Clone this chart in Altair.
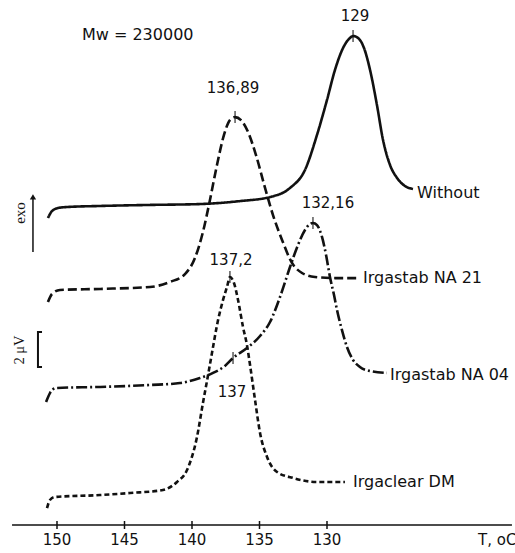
import altair as alt
import pandas as pd

# Temperature (°C) and signal (μV, offset)
without_T = [150.67,150.37,149.93,149.26,146.81,143.11,139.41,136.44,134.22,132.74,131.63,130.74,130.0,129.41,128.81,128.30,128.07,127.70,127.26,126.81,126.30,125.85,125.33,124.81,124.22,123.63]
without_V = [17.54,17.94,18.11,18.17,18.23,18.29,18.34,18.51,18.74,19.26,20.29,22.29,24.29,26.0,27.26,27.83,27.94,27.83,27.26,26.0,24.0,22.0,20.57,19.83,19.37,19.2]

na21_T = [150.67,150.37,149.78,146.81,143.11,141.63,140.52,139.78,139.19,138.67,138.15,137.63,137.19,136.81,136.37,135.85,135.26,134.59,134.0,133.33,132.59,131.85,130.89,129.41,127.56]
na21_V = [12.74,13.2,13.43,13.49,13.6,13.89,14.34,15.26,16.74,18.57,20.57,22.29,23.14,23.31,23.14,22.46,21.14,19.26,17.71,16.29,14.97,14.4,14.17,14.11,14.11]

na04_T = [150.81,150.52,150.07,146.81,143.11,140.89,139.41,138.44,137.56,136.96,135.93,134.96,134.22,133.48,132.74,132.15,131.63,131.26,131.04,130.74,130.37,130.07,129.78,129.48,129.26,128.89,128.52,128.07,127.56,126.81,125.56]
na04_V = [7.03,7.54,7.83,7.89,8.0,8.11,8.4,8.69,9.09,9.54,10.11,10.8,11.6,13.03,14.74,16.0,16.86,17.2,17.26,17.14,16.46,15.43,14.17,13.14,12.29,11.14,10.17,9.43,9.03,8.8,8.69]

dm_T = [150.74,150.52,150.15,146.81,144.59,142.15,141.11,140.37,139.63,139.19,138.81,138.52,138.07,137.70,137.41,137.19,136.89,136.59,136.22,135.93,135.70,135.33,134.96,134.44,133.70,132.52,130.74,128.67]
dm_V = [0.97,1.43,1.6,1.71,1.83,2.0,2.46,3.14,5.03,6.97,8.57,9.83,11.71,12.86,13.6,14.17,13.83,12.86,11.31,10.29,9.14,7.14,5.26,3.89,3.03,2.69,2.46,2.46]

series_names = ["Without", "Irgastab NA 21", "Irgastab NA 04", "Irgaclear DM"]
series_T = [without_T, na21_T, na04_T, dm_T]
series_V = [without_V, na21_V, na04_V, dm_V]
series_dash = [[1, 0], [9, 4], [11, 3, 2, 3], [5, 3]]

label_T = [123.33, 127.33, 125.33, 128.07]
label_V = [18.97, 14.11, 8.57, 2.46]

peak_text = ["129", "136,89", "132,16", "137,2", "137"]
peak_text_T = [127.93, 136.96, 129.93, 137.11, 137.04]
peak_text_V = [29.09, 24.97, 18.4, 15.14, 7.6]
peak_mark_T = [128.07, 136.81, 131.04, 137.19, 136.96]
peak_mark_V = [27.94, 23.31, 17.26, 14.17, 9.54]

tick_values = [150, 145, 140, 135, 130]
tick_labels = ["150", "145", "140", "135", "130"]

W, H = 515, 553
xs = alt.Scale(domain=[116.074, 154.222], reverse=True, zero=False, nice=False)
ys = alt.Scale(domain=[-1.6, 30.0], zero=False, nice=False)
FONT = "DejaVu Sans"

def X(f="T"):
    return alt.X(f"{f}:Q", scale=xs, axis=None)

def Y(f="V"):
    return alt.Y(f"{f}:Q", scale=ys, axis=None)

layers = []
for name, t, v, dash in zip(series_names, series_T, series_V, series_dash):
    df = pd.DataFrame({"T": t, "V": v, "name": name})
    layers.append(
        alt.Chart(df).mark_line(color="#111", strokeWidth=2.6, strokeDash=dash, interpolate="monotone")
        .encode(x=X(), y=Y())
    )

lab = pd.DataFrame({"T": label_T, "V": label_V, "text": series_names})
layers.append(alt.Chart(lab).mark_text(align="left", baseline="middle", font=FONT, fontSize=16, color="#111")
              .encode(x=X(), y=Y(), text="text:N"))

pk = pd.DataFrame({"T": peak_text_T, "V": peak_text_V, "text": peak_text})
layers.append(alt.Chart(pk).mark_text(align="center", baseline="middle", font=FONT, fontSize=15, color="#111")
              .encode(x=X(), y=Y(), text="text:N"))

pm = pd.DataFrame({"T": peak_mark_T, "V": peak_mark_V})
layers.append(alt.Chart(pm).mark_tick(orient="vertical", size=12, thickness=1.5, color="#111")
              .encode(x=X(), y=Y()))

mw = pd.DataFrame({"T": [148.15], "V": [28.0], "text": ["Mw = 230000"]})
layers.append(alt.Chart(mw).mark_text(align="left", baseline="middle", font=FONT, fontSize=16, color="#111")
              .encode(x=X(), y=Y(), text="text:N"))

# x axis drawn as annotation
axis_line = pd.DataFrame({"T": [153.33], "T2": [116.3], "V": [0.0]})
layers.append(alt.Chart(axis_line).mark_rule(color="#111", strokeWidth=1.5)
              .encode(x=X(), x2="T2:Q", y=Y()))
tk = pd.DataFrame({"T": tick_values, "V": [0.23] * 5, "V2": [-0.23] * 5, "text": tick_labels, "VL": [-0.86] * 5})
layers.append(alt.Chart(tk).mark_rule(color="#111", strokeWidth=1.5)
              .encode(x=X(), y=Y(), y2="V2:Q"))
layers.append(alt.Chart(tk).mark_text(align="center", baseline="middle", font=FONT, fontSize=15, color="#111")
              .encode(x=X(), y=Y("VL"), text="text:N"))
tl = pd.DataFrame({"T": [118.81], "V": [-0.86], "text": ["T, oC"]})
layers.append(alt.Chart(tl).mark_text(align="left", baseline="middle", font=FONT, fontSize=15, color="#111")
              .encode(x=X(), y=Y(), text="text:N"))

# exo arrow
arrow = pd.DataFrame({"T": [151.78], "V": [15.6], "V2": [18.8]})
layers.append(alt.Chart(arrow).mark_rule(color="#111", strokeWidth=1.5).encode(x=X(), y=Y(), y2="V2:Q"))
ahead = pd.DataFrame({"T": [151.78], "V": [18.75]})
layers.append(alt.Chart(ahead).mark_point(shape="triangle-up", filled=True, size=40, color="#111", opacity=1)
              .encode(x=X(), y=Y()))
exo = pd.DataFrame({"T": [152.74], "V": [17.83], "text": ["exo"]})
layers.append(alt.Chart(exo).mark_text(angle=270, align="center", baseline="middle", font="Liberation Serif", fontSize=15, color="#111")
              .encode(x=X(), y=Y(), text="text:N"))

# 2 μV scale bar
bracket = pd.DataFrame({"T": [151.11, 151.41, 151.41, 151.11], "V": [11.03, 11.03, 9.03, 9.03], "o": [0, 1, 2, 3]})
layers.append(alt.Chart(bracket).mark_line(color="#111", strokeWidth=2)
              .encode(x=X(), y=Y(), order="o:Q"))
sb = pd.DataFrame({"T": [152.74], "V": [10.0], "text": ["2 μV"]})
layers.append(alt.Chart(sb).mark_text(angle=270, align="center", baseline="middle", font="Liberation Serif", fontSize=14.5, color="#111")
              .encode(x=X(), y=Y(), text="text:N"))

chart = alt.layer(*layers).properties(
    width=W, height=H, autosize=alt.AutoSizeParams(type="none"), padding=0,
    background="white"
).configure_view(stroke=None)

chart.save("out.html", embed_options={"renderer": "svg", "actions": False})
